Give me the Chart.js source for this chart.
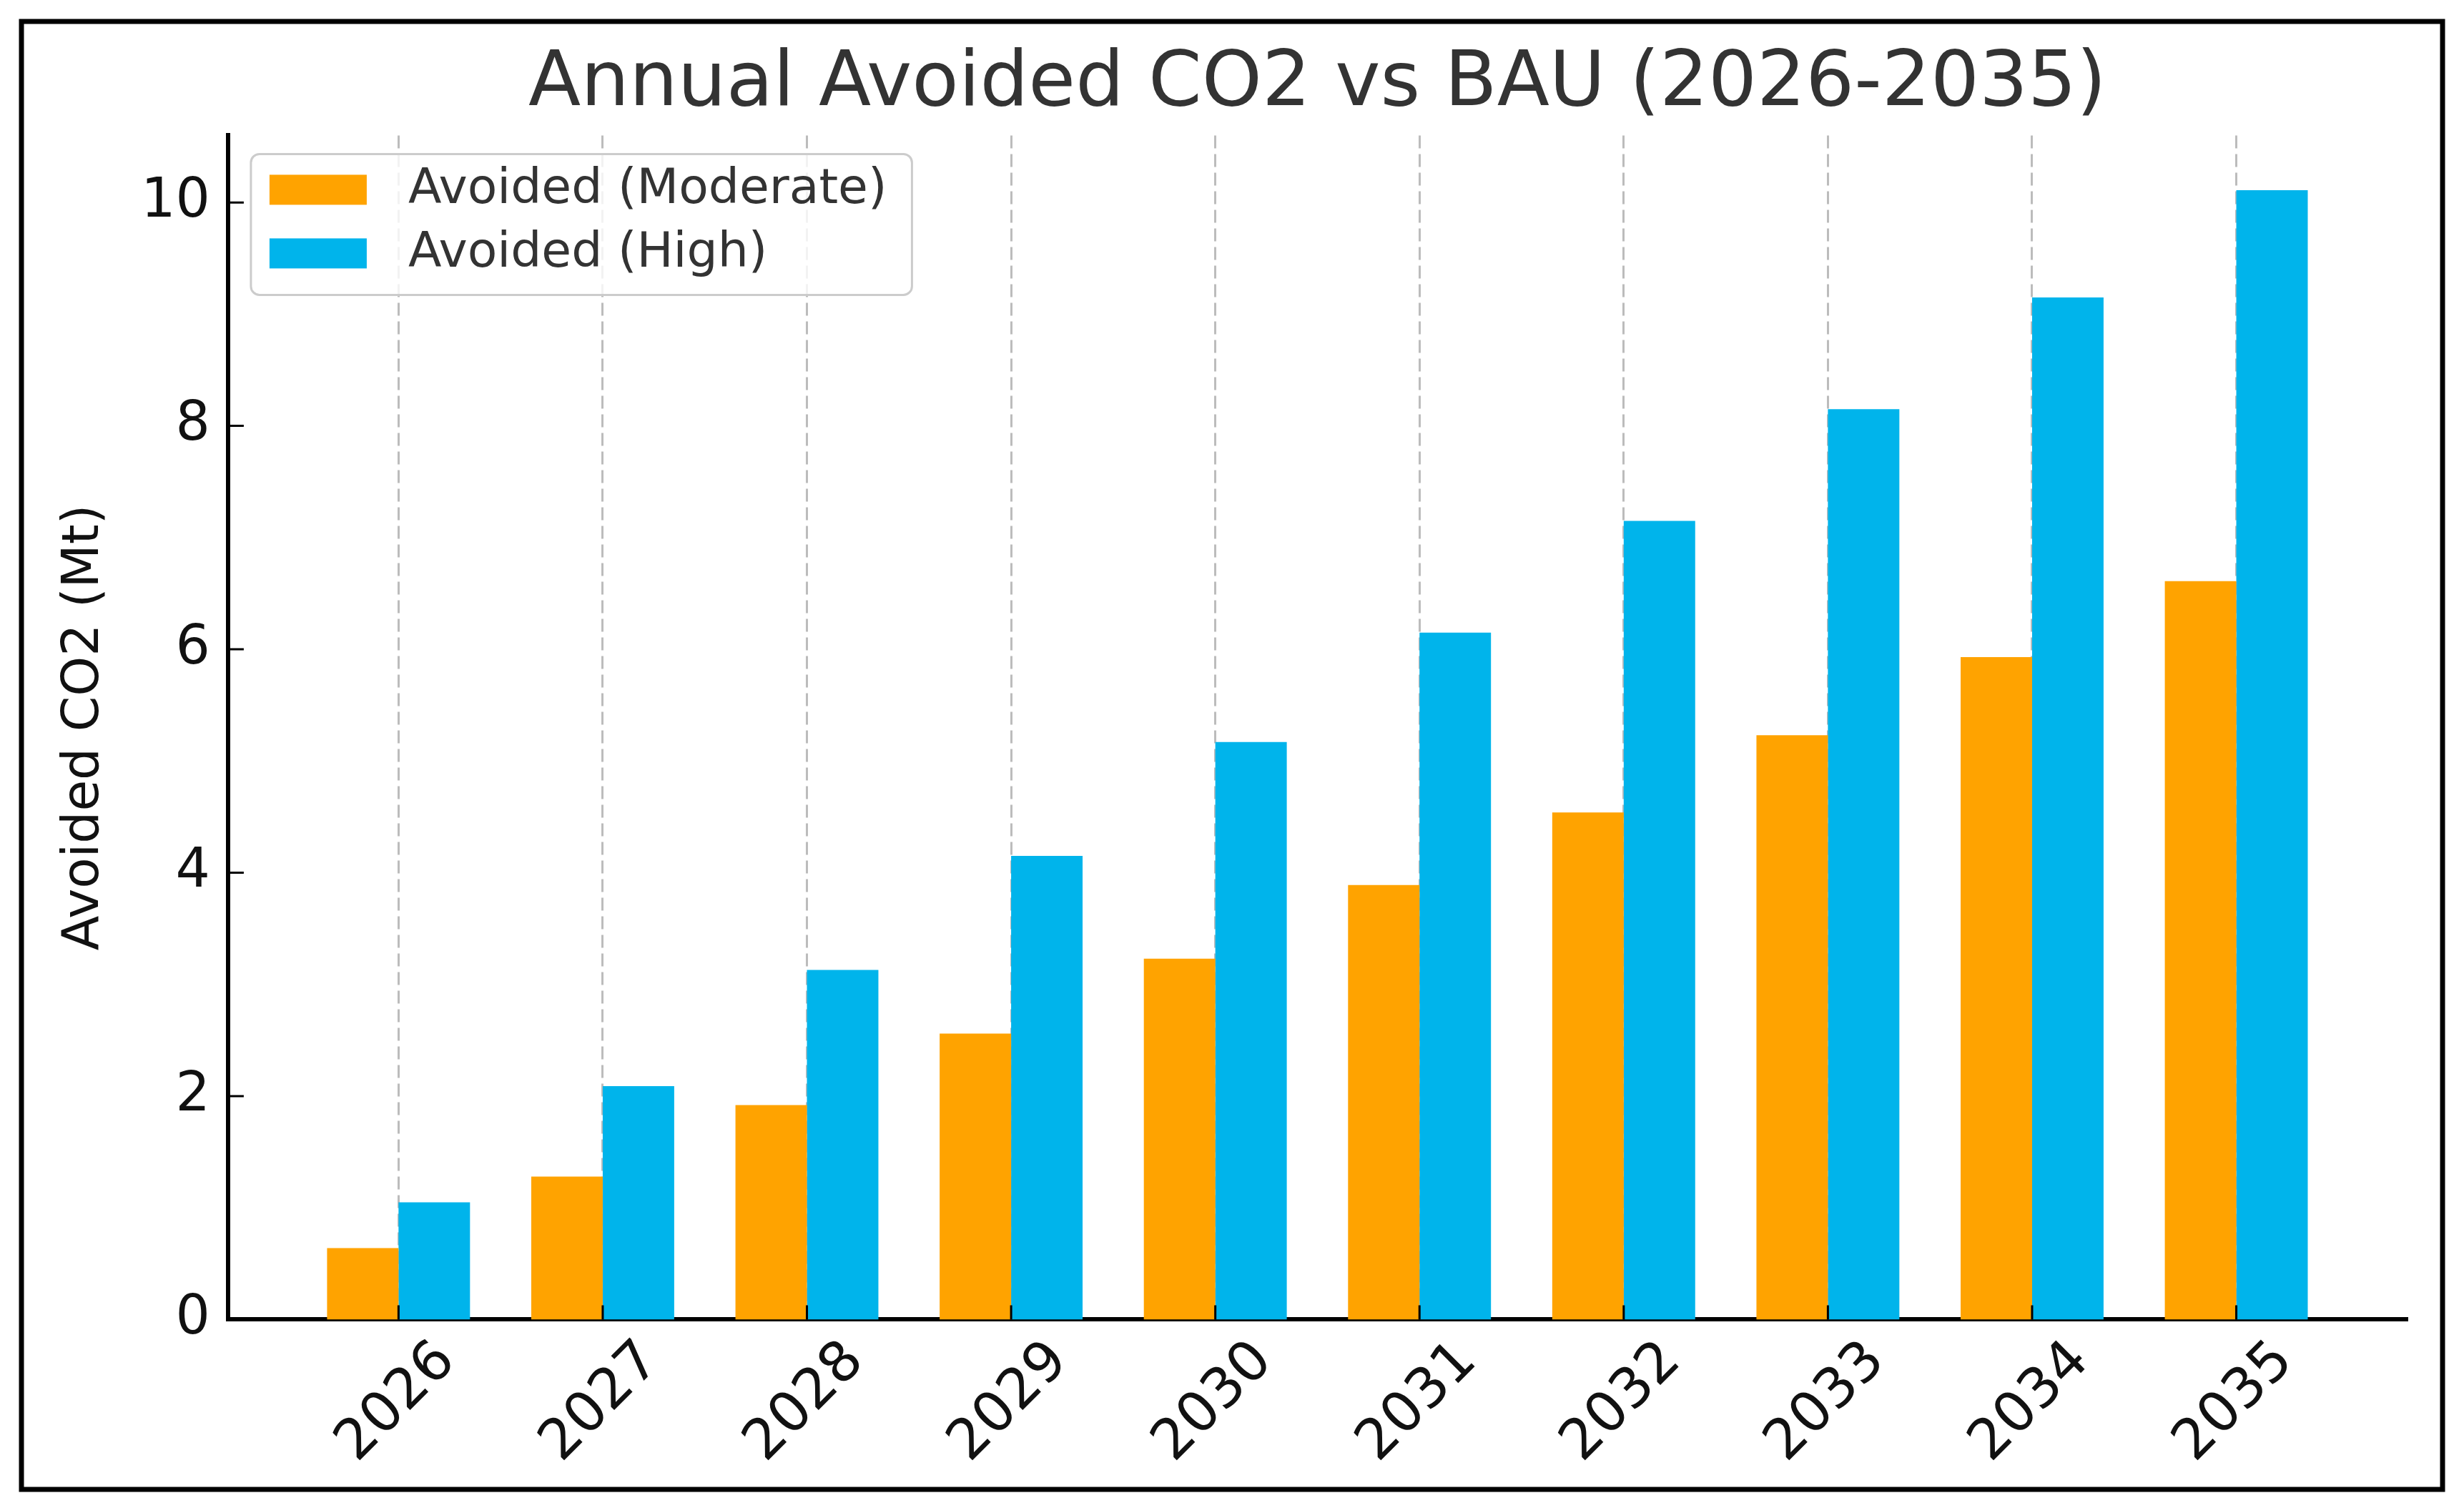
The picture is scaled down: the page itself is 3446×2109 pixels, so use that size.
<!DOCTYPE html>
<html>
<head>
<meta charset="utf-8">
<script src="https://cdn.jsdelivr.net/npm/chart.js@4.4.1/dist/chart.umd.min.js"></script>
<style>
  html, body { margin: 0; padding: 0; background: #fff; }
  #wrap { width: 3446px; height: 2109px; position: relative; }
</style>
</head>
<body>
<div id="wrap"><canvas id="graphic"></canvas></div>
<script>
const years = ['2026', '2027', '2028', '2029', '2030', '2031', '2032', '2033', '2034', '2035'];
const moderate = [0.64, 1.28, 1.92, 2.56, 3.23, 3.89, 4.54, 5.23, 5.93, 6.61];
const high = [1.05, 2.09, 3.13, 4.15, 5.17, 6.15, 7.15, 8.15, 9.15, 10.11];
const yTicks = [0, 2, 4, 6, 8, 10];

const family = "'DejaVu Sans'";
Chart.defaults.font.family = family;

// outer black frame round the whole figure
const framePlugin = {
	id: 'frame',
	beforeDraw(chart) {
		const ctx = chart.ctx;
		ctx.save();
		ctx.fillStyle = '#fff';
		ctx.fillRect(0, 0, chart.width, chart.height);
		ctx.strokeStyle = '#000';
		ctx.lineWidth = 7;
		ctx.strokeRect(30, 30, 3386, 2053);
		ctx.restore();
	}
};

// centre the title over the plot, not the whole canvas
const titleOverPlot = {
	id: 'titleOverPlot',
	afterLayout(chart) {
		const t = chart.titleBlock;
		if (!t) return;
		t.left = chart.chartArea.left;
		t.right = chart.chartArea.right;
		t.width = t.right - t.left;
	}
};

// matplotlib style ticks pointing into the plot
const innerTicks = {
	id: 'innerTicks',
	afterDraw(chart) {
		const ctx = chart.ctx;
		const a = chart.chartArea;
		ctx.save();
		ctx.strokeStyle = '#000';
		ctx.lineWidth = 3;
		ctx.beginPath();
		chart.scales.x.ticks.forEach(t => {
			const px = chart.scales.x.getPixelForValue(t.value);
			ctx.moveTo(px, a.bottom);
			ctx.lineTo(px, a.bottom - 20);
		});
		chart.scales.y.ticks.forEach(t => {
			const py = chart.scales.y.getPixelForValue(t.value);
			ctx.moveTo(a.left, py);
			ctx.lineTo(a.left + 22, py);
		});
		ctx.stroke();
		ctx.restore();
	}
};

// legend box in the upper left corner of the plot
const legendBox = {
	id: 'legendBox',
	afterDraw(chart) {
		const ctx = chart.ctx;
		const a = chart.chartArea;
		const sets = chart.data.datasets;
		ctx.save();
		ctx.font = '68px ' + family;
		let textW = 0;
		sets.forEach(ds => { textW = Math.max(textW, ctx.measureText(ds.label).width); });
		const x0 = a.left + 32, y0 = a.top + 26;
		const w = 220 + textW + 35, h = 197;
		ctx.beginPath();
		ctx.roundRect(x0, y0, w, h, 12);
		ctx.fillStyle = 'rgba(255,255,255,0.8)';
		ctx.fill();
		ctx.strokeStyle = '#cccccc';
		ctx.lineWidth = 3;
		ctx.stroke();
		sets.forEach((ds, i) => {
			const by = y0 + 29 + i * 89;
			ctx.fillStyle = ds.backgroundColor;
			ctx.fillRect(x0 + 26, by, 136, 42);
			ctx.fillStyle = '#333';
			ctx.textBaseline = 'middle';
			ctx.textAlign = 'left';
			ctx.fillText(ds.label, x0 + 220, by + 22);
		});
		ctx.restore();
	}
};

new Chart(document.getElementById('graphic'), {
	type: 'bar',
	data: {
		datasets: [
			{
				label: 'Avoided (Moderate)',
				data: moderate.map((v, i) => ({ x: i, y: v })),
				backgroundColor: '#FFA300'
			},
			{
				label: 'Avoided (High)',
				data: high.map((v, i) => ({ x: i, y: v })),
				backgroundColor: '#00B4EB'
			}
		]
	},
	options: {
		responsive: true,
		maintainAspectRatio: false,
		animation: false,
		devicePixelRatio: 1,
		layout: { padding: { top: 40, left: 40, right: 80, bottom: 31 } },
		datasets: { bar: { categoryPercentage: 0.7, barPercentage: 1.0 } },
		plugins: {
			legend: { display: false },
			tooltip: { enabled: false },
			title: {
				display: true,
				text: 'Annual Avoided CO2 vs BAU (2026-2035)',
				color: '#333',
				font: { family: family, size: 107, weight: 'normal' },
				padding: { top: 15, bottom: 6 }
			}
		},
		scales: {
			x: {
				type: 'linear',
				offset: false,
				min: -0.835,
				max: 9.835,
				z: 1,
				afterBuildTicks: s => { s.ticks = years.map((y, i) => ({ value: i })); },
				grid: { display: true, offset: false, drawTicks: false, color: 'rgba(176,176,176,0.85)', lineWidth: 3 },
				border: { display: true, color: '#000', width: 6, dash: [18, 8] },
				ticks: {
					color: '#111',
					font: { family: family, size: 78 },
					padding: 13,
					minRotation: 45,
					maxRotation: 45,
					labelOffset: 68,
					callback: v => years[v] ?? ''
				}
			},
			y: {
				min: 0,
				max: 10.6,
				z: 1,
				afterBuildTicks: s => { s.ticks = yTicks.map(v => ({ value: v })); },
				grid: { display: false, drawTicks: false },
				border: { display: true, color: '#000', width: 6 },
				ticks: { color: '#111', font: { family: family, size: 76 }, padding: 25 },
				title: {
					display: true,
					text: 'Avoided CO2 (Mt)',
					color: '#111',
					font: { family: family, size: 71 },
					padding: { top: 36, bottom: 11 }
				}
			}
		}
	},
	plugins: [framePlugin, titleOverPlot, innerTicks, legendBox]
});
</script>
</body>
</html>
